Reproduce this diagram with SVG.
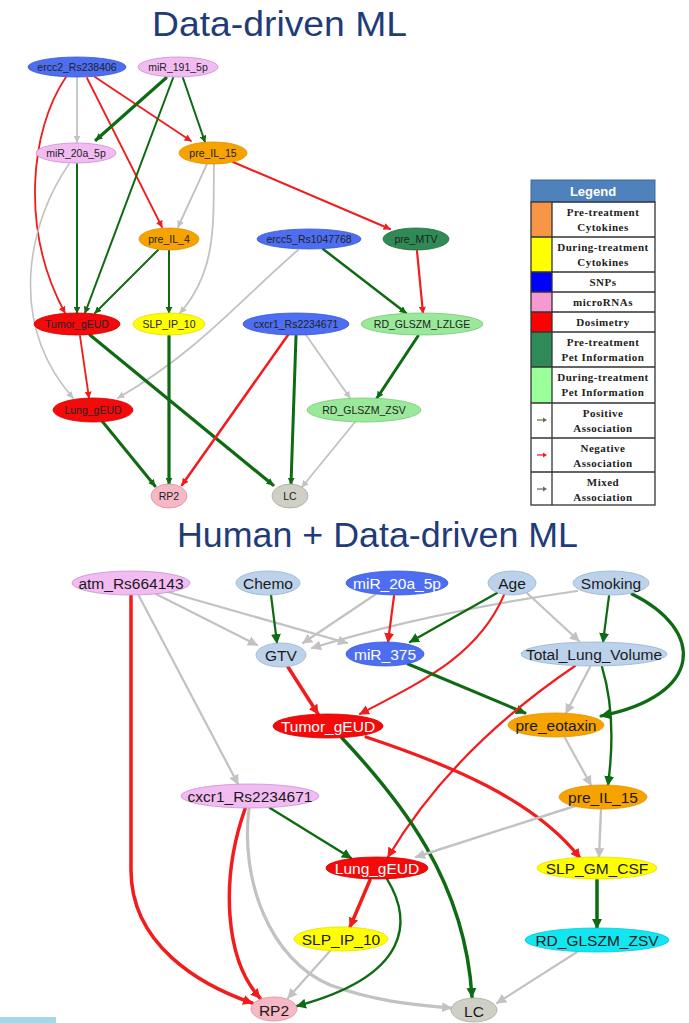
<svg xmlns="http://www.w3.org/2000/svg" width="689" height="1023" viewBox="0 0 689 1023">
  <style>
    .title { font-family: "Liberation Sans", Arial, sans-serif; fill: #1f3c78; }
    .t1 { font-family: "Liberation Sans", Arial, sans-serif; font-size: 10.5px; fill: #222; text-anchor: middle; dominant-baseline: central; }
    .t2 { font-family: "Liberation Sans", Arial, sans-serif; font-size: 15.5px; fill: #1a1a1a; text-anchor: middle; dominant-baseline: central; }
    .t2w { fill: #ffffff; }
    .e { fill: none; stroke-linecap: round; }
    .pos { stroke: #0e6b12; }
    .neg { stroke: #f21c1c; }
    .mix { stroke: #c2c2c2; }
    .snp { fill: #4d6ef0; stroke: #3a58d8; stroke-width: 0.8; }
    .mirna { fill: #f2bcf2; stroke: #c98fd0; stroke-width: 0.8; }
    .precyt { fill: #f6a300; stroke: #e09200; stroke-width: 0.8; }
    .durcyt { fill: #ffff00; stroke: #e0e000; stroke-width: 0.8; }
    .dos { fill: #f40a0a; stroke: #d00000; stroke-width: 0.8; }
    .prepet { fill: #2f8a55; stroke: #236e42; stroke-width: 0.8; }
    .durpet { fill: #9ae89a; stroke: #78c878; stroke-width: 0.8; }
    .clin { fill: #bcd2ea; stroke: #98b2d0; stroke-width: 0.8; }
    .rp2 { fill: #f5b8c4; stroke: #d8909e; stroke-width: 0.8; }
    .lc { fill: #cfcfc6; stroke: #a8a89e; stroke-width: 0.8; }
    .zsv { fill: #12e6f0; stroke: #00c8d2; stroke-width: 0.8; }
    .lg { font-family: "Liberation Serif", "Times New Roman", serif; font-weight: bold; font-size: 11px; fill: #222; text-anchor: middle; letter-spacing: 0.5px; }
    .lgrid { fill: none; stroke: #333; stroke-width: 1.3; }
  </style>
  <defs>
    <marker id="ag" viewBox="0 0 10 10" refX="9" refY="5" markerUnits="userSpaceOnUse" markerWidth="7" markerHeight="7" orient="auto"><path d="M0,0 L10,5 L0,10 z" fill="#0e6b12"/></marker>
    <marker id="ar" viewBox="0 0 10 10" refX="9" refY="5" markerUnits="userSpaceOnUse" markerWidth="7" markerHeight="7" orient="auto"><path d="M0,0 L10,5 L0,10 z" fill="#f21c1c"/></marker>
    <marker id="ay" viewBox="0 0 10 10" refX="9" refY="5" markerUnits="userSpaceOnUse" markerWidth="7" markerHeight="7" orient="auto"><path d="M0,0 L10,5 L0,10 z" fill="#c2c2c2"/></marker>
    <marker id="bg" viewBox="0 0 10 10" refX="9" refY="5" markerUnits="userSpaceOnUse" markerWidth="10" markerHeight="10" orient="auto"><path d="M0,0 L10,5 L0,10 z" fill="#0e6b12"/></marker>
    <marker id="br" viewBox="0 0 10 10" refX="9" refY="5" markerUnits="userSpaceOnUse" markerWidth="10" markerHeight="10" orient="auto"><path d="M0,0 L10,5 L0,10 z" fill="#f21c1c"/></marker>
    <marker id="by" viewBox="0 0 10 10" refX="9" refY="5" markerUnits="userSpaceOnUse" markerWidth="10" markerHeight="10" orient="auto"><path d="M0,0 L10,5 L0,10 z" fill="#c2c2c2"/></marker>
  </defs>

  <rect x="0" y="0" width="689" height="1023" fill="#ffffff"/>

  <!-- Titles -->
  <text class="title" x="152" y="36" font-size="35" textLength="255" lengthAdjust="spacingAndGlyphs">Data-driven ML</text>
  <text class="title" x="177" y="547" font-size="35" textLength="401" lengthAdjust="spacingAndGlyphs">Human + Data-driven ML</text>

  <!-- ===== Upper network: connectors ===== -->
  <g id="edges-top">
    <path class="e mix" stroke-width="1.8" marker-end="url(#ay)" d="M77,77 L77,142"/>
    <path class="e neg" stroke-width="1.8" marker-end="url(#ar)" d="M66,77 C30,130 20,230 65,313"/>
    <path class="e neg" stroke-width="1.8" marker-end="url(#ar)" d="M87,78 L162,227"/>
    <path class="e neg" stroke-width="1.8" marker-end="url(#ar)" d="M95,77 L191,141"/>
    <path class="e pos" stroke-width="3.2" marker-end="url(#ag)" d="M166,78 L96,140"/>
    <path class="e pos" stroke-width="2" marker-end="url(#ag)" d="M173,78 L85,313"/>
    <path class="e pos" stroke-width="2" marker-end="url(#ag)" d="M183,78 L205,142"/>
    <path class="e pos" stroke-width="2" marker-end="url(#ag)" d="M77,164 L77,313"/>
    <path class="e mix" stroke-width="1.6" marker-end="url(#ay)" d="M69,164 C30,220 5,320 73,398"/>
    <path class="e mix" stroke-width="1.8" marker-end="url(#ay)" d="M207,164 L178,227"/>
    <path class="e mix" stroke-width="1.8" marker-end="url(#ay)" d="M214,164 C213,220 218,270 180,313"/>
    <path class="e neg" stroke-width="2" marker-end="url(#ar)" d="M233,162 L390,229"/>
    <path class="e pos" stroke-width="2" marker-end="url(#ag)" d="M158,250 L95,313"/>
    <path class="e pos" stroke-width="2" marker-end="url(#ag)" d="M169,250 L169,313"/>
    <path class="e mix" stroke-width="1.8" marker-end="url(#ay)" d="M298,250 C240,300 200,350 118,398"/>
    <path class="e pos" stroke-width="2.5" marker-end="url(#ag)" d="M323,249 L406,313"/>
    <path class="e neg" stroke-width="2.2" marker-end="url(#ar)" d="M417,251 L423,313"/>
    <path class="e neg" stroke-width="1.8" marker-end="url(#ar)" d="M80,336 L89,398"/>
    <path class="e pos" stroke-width="3.2" marker-end="url(#ag)" d="M90,335 L273,485"/>
    <path class="e pos" stroke-width="3.2" marker-end="url(#ag)" d="M169,336 L169,484"/>
    <path class="e neg" stroke-width="2.5" marker-end="url(#ar)" d="M288,335 L182,485"/>
    <path class="e pos" stroke-width="3" marker-end="url(#ag)" d="M296,336 L291,484"/>
    <path class="e mix" stroke-width="1.8" marker-end="url(#ay)" d="M306,335 L350,398"/>
    <path class="e pos" stroke-width="3" marker-end="url(#ag)" d="M418,336 L377,398"/>
    <path class="e pos" stroke-width="3" marker-end="url(#ag)" d="M102,421 L155,486"/>
    <path class="e mix" stroke-width="1.8" marker-end="url(#ay)" d="M355,422 L302,487"/>
  </g>

  <!-- ===== Upper network: nodes ===== -->
  <g id="n-ercc2"><ellipse class="snp" cx="77" cy="67" rx="49" ry="10"/><text class="t1" x="77" y="67">ercc2_Rs238406</text></g>
  <g id="n-mir191"><ellipse class="mirna" cx="178" cy="67" rx="40" ry="10"/><text class="t1" x="178" y="67">miR_191_5p</text></g>
  <g id="n-mir20a-top"><ellipse class="mirna" cx="76" cy="153" rx="40" ry="10"/><text class="t1" x="76" y="153">miR_20a_5p</text></g>
  <g id="n-preil15-top"><ellipse class="precyt" cx="213" cy="153" rx="34" ry="11"/><text class="t1" x="213" y="153">pre_IL_15</text></g>
  <g id="n-preil4"><ellipse class="precyt" cx="169" cy="239" rx="30" ry="11"/><text class="t1" x="169" y="239">pre_IL_4</text></g>
  <g id="n-ercc5"><ellipse class="snp" cx="309" cy="239" rx="52" ry="10"/><text class="t1" x="309" y="239">ercc5_Rs1047768</text></g>
  <g id="n-premtv"><ellipse class="prepet" cx="416" cy="239" rx="33" ry="11"/><text class="t1" x="416" y="239">pre_MTV</text></g>
  <g id="n-tumor-top"><ellipse class="dos" cx="77" cy="324" rx="43" ry="11"/><text class="t1" x="77" y="324">Tumor_gEUD</text></g>
  <g id="n-slpip10-top"><ellipse class="durcyt" cx="169" cy="324" rx="36" ry="11"/><text class="t1" x="169" y="324">SLP_IP_10</text></g>
  <g id="n-cxcr1-top"><ellipse class="snp" cx="296" cy="324" rx="53" ry="11"/><text class="t1" x="296" y="324">cxcr1_Rs2234671</text></g>
  <g id="n-lzlge"><ellipse class="durpet" cx="422" cy="324" rx="61" ry="11"/><text class="t1" x="422" y="324">RD_GLSZM_LZLGE</text></g>
  <g id="n-lung-top"><ellipse class="dos" cx="93" cy="410" rx="40" ry="12"/><text class="t1" x="93" y="410">Lung_gEUD</text></g>
  <g id="n-zsv-top"><ellipse class="durpet" cx="364" cy="410" rx="57" ry="12"/><text class="t1" x="364" y="410">RD_GLSZM_ZSV</text></g>
  <g id="n-rp2-top"><ellipse class="rp2" cx="169" cy="496" rx="18" ry="12"/><text class="t1" x="169" y="496">RP2</text></g>
  <g id="n-lc-top"><ellipse class="lc" cx="290" cy="496" rx="18" ry="12"/><text class="t1" x="290" y="496">LC</text></g>

  <!-- ===== Legend ===== -->
  <g id="legend">
    <rect x="531" y="180" width="124" height="22" fill="#4f81bd" stroke="#3b6aa0" stroke-width="1"/>
    <text x="593" y="196" font-family="'Liberation Sans', Arial, sans-serif" font-weight="bold" font-size="13" fill="#ffffff" text-anchor="middle">Legend</text>
    <rect x="531" y="202" width="21" height="35" fill="#f79646"/>
    <rect x="531" y="237" width="21" height="35" fill="#ffff00"/>
    <rect x="531" y="272" width="21" height="20" fill="#0000ff"/>
    <rect x="531" y="292" width="21" height="20" fill="#f59ad0"/>
    <rect x="531" y="312" width="21" height="20" fill="#ff0000"/>
    <rect x="531" y="332" width="21" height="35" fill="#2e8b57"/>
    <rect x="531" y="367" width="21" height="36" fill="#99ff99"/>
    <rect class="lgrid" x="531" y="202" width="124" height="303"/>
    <path class="lgrid" d="M552,202 V505 M531,237 H655 M531,272 H655 M531,292 H655 M531,312 H655 M531,332 H655 M531,367 H655 M531,403 H655 M531,438 H655 M531,472 H655"/>
    <text class="lg" x="603" y="216">Pre-treatment</text>
    <text class="lg" x="603" y="231">Cytokines</text>
    <text class="lg" x="603" y="251">During-treatment</text>
    <text class="lg" x="603" y="266">Cytokines</text>
    <text class="lg" x="603" y="286">SNPs</text>
    <text class="lg" x="603" y="306">microRNAs</text>
    <text class="lg" x="603" y="326">Dosimetry</text>
    <text class="lg" x="603" y="346">Pre-treatment</text>
    <text class="lg" x="603" y="361">Pet Information</text>
    <text class="lg" x="603" y="381">During-treatment</text>
    <text class="lg" x="603" y="396">Pet Information</text>
    <text class="lg" x="603" y="417">Positive</text>
    <text class="lg" x="603" y="432">Association</text>
    <text class="lg" x="603" y="452">Negative</text>
    <text class="lg" x="603" y="467">Association</text>
    <text class="lg" x="603" y="486">Mixed</text>
    <text class="lg" x="603" y="501">Association</text>
    <path d="M537,420 H544" stroke="#6a7040" stroke-width="1.2"/><path d="M543,417.5 L547,420 L543,422.5 z" fill="#6a7040"/>
    <path d="M537,455 H544" stroke="#f21c1c" stroke-width="1.2"/><path d="M543,452.5 L547,455 L543,457.5 z" fill="#f21c1c"/>
    <path d="M537,489 H544" stroke="#666" stroke-width="1.2"/><path d="M543,486.5 L547,489 L543,491.5 z" fill="#666"/>
  </g>

  <!-- ===== Lower network: connectors ===== -->
  <g id="edges-bottom">
    <path class="e neg" stroke-width="3.5" marker-end="url(#br)" d="M131,595 L131,870 C131,945 200,985 252,1003"/>
    <path class="e mix" stroke-width="2.2" marker-end="url(#by)" d="M156,594 L257,645"/>
    <path class="e mix" stroke-width="2.2" marker-end="url(#by)" d="M168,592 L347,643"/>
    <path class="e mix" stroke-width="2.2" marker-end="url(#by)" d="M139,596 L238,784"/>
    <path class="e pos" stroke-width="2.2" marker-end="url(#bg)" d="M271,595 L277,643"/>
    <path class="e mix" stroke-width="2.2" marker-end="url(#by)" d="M376,594 L303,643"/>
    <path class="e mix" stroke-width="2.2" marker-end="url(#by)" d="M577,591 Q430,612 312,648"/>
    <path class="e neg" stroke-width="2.2" marker-end="url(#br)" d="M394,596 L388,642"/>
    <path class="e pos" stroke-width="2.4" marker-end="url(#bg)" d="M497,593 L410,642"/>
    <path class="e neg" stroke-width="2" marker-end="url(#br)" d="M504,595 C478,655 425,680 360,714"/>
    <path class="e mix" stroke-width="2.2" marker-end="url(#by)" d="M527,593 L579,641"/>
    <path class="e pos" stroke-width="2.2" marker-end="url(#bg)" d="M609,596 L603,642"/>
    <path class="e pos" stroke-width="3.2" marker-end="url(#bg)" d="M632,594 C705,630 705,695 601,716"/>
    <path class="e neg" stroke-width="3.5" marker-end="url(#br)" d="M288,667 L318,714"/>
    <path class="e pos" stroke-width="3" marker-end="url(#bg)" d="M408,664 L525,713"/>
    <path class="e neg" stroke-width="2.2" marker-end="url(#br)" d="M575,666 C510,710 440,770 388,857"/>
    <path class="e mix" stroke-width="2.2" marker-end="url(#by)" d="M590,667 L566,713"/>
    <path class="e pos" stroke-width="2.4" marker-end="url(#bg)" d="M602,667 C612,700 614,740 608,785"/>
    <path class="e pos" stroke-width="3.5" marker-end="url(#bg)" d="M342,738 C400,800 465,880 472,997"/>
    <path class="e neg" stroke-width="3.2" marker-end="url(#br)" d="M366,737 C450,765 535,800 580,858"/>
    <path class="e mix" stroke-width="2.2" marker-end="url(#by)" d="M565,738 L591,785"/>
    <path class="e pos" stroke-width="2.4" marker-end="url(#bg)" d="M270,808 L351,858"/>
    <path class="e neg" stroke-width="3.5" marker-end="url(#br)" d="M245,809 C220,880 225,960 260,998"/>
    <path class="e mix" stroke-width="3.2" marker-end="url(#by)" d="M249,809 C240,880 270,960 330,985 C380,1003 420,1005 451,1008"/>
    <path class="e mix" stroke-width="2.4" marker-end="url(#by)" d="M575,806 L416,857"/>
    <path class="e mix" stroke-width="2.4" marker-end="url(#by)" d="M601,809 L599,857"/>
    <path class="e neg" stroke-width="3.5" marker-end="url(#br)" d="M370,880 L350,927"/>
    <path class="e pos" stroke-width="2.4" marker-end="url(#bg)" d="M387,879 C412,920 412,975 297,1006"/>
    <path class="e mix" stroke-width="2.2" marker-end="url(#by)" d="M330,951 L288,998"/>
    <path class="e pos" stroke-width="3.5" marker-end="url(#bg)" d="M597,880 L597,928"/>
    <path class="e mix" stroke-width="2.2" marker-end="url(#by)" d="M577,952 L497,1003"/>
  </g>

  <!-- ===== Lower network: nodes ===== -->
  <g id="m-atm"><ellipse class="mirna" cx="131" cy="583" rx="59" ry="12"/><text class="t2" x="131" y="583">atm_Rs664143</text></g>
  <g id="m-chemo"><ellipse class="clin" cx="268" cy="583" rx="32" ry="12"/><text class="t2" x="268" y="583">Chemo</text></g>
  <g id="m-mir20a"><ellipse class="snp" cx="397" cy="583" rx="51" ry="12"/><text class="t2 t2w" x="397" y="583">miR_20a_5p</text></g>
  <g id="m-age"><ellipse class="clin" cx="512" cy="583" rx="24" ry="12"/><text class="t2" x="512" y="583">Age</text></g>
  <g id="m-smoking"><ellipse class="clin" cx="611" cy="583" rx="38" ry="12"/><text class="t2" x="611" y="583">Smoking</text></g>
  <g id="m-gtv"><ellipse class="clin" cx="281" cy="655" rx="25" ry="12"/><text class="t2" x="281" y="655">GTV</text></g>
  <g id="m-mir375"><ellipse class="snp" cx="385" cy="654" rx="39" ry="12"/><text class="t2 t2w" x="385" y="654">miR_375</text></g>
  <g id="m-tlv"><ellipse class="clin" cx="594" cy="654" rx="73" ry="12"/><text class="t2" x="594" y="654">Total_Lung_Volume</text></g>
  <g id="m-tumor"><ellipse class="dos" cx="328" cy="726" rx="55" ry="12"/><text class="t2 t2w" x="328" y="726">Tumor_gEUD</text></g>
  <g id="m-eotaxin"><ellipse class="precyt" cx="556" cy="725" rx="48" ry="12"/><text class="t2" x="556" y="725">pre_eotaxin</text></g>
  <g id="m-cxcr1"><ellipse class="mirna" cx="250" cy="796" rx="69" ry="12"/><text class="t2" x="250" y="796">cxcr1_Rs2234671</text></g>
  <g id="m-preil15"><ellipse class="precyt" cx="603" cy="797" rx="44" ry="12"/><text class="t2" x="603" y="797">pre_IL_15</text></g>
  <g id="m-lung"><ellipse class="dos" cx="377" cy="868" rx="51" ry="11"/><text class="t2 t2w" x="377" y="868">Lung_gEUD</text></g>
  <g id="m-gmcsf"><ellipse class="durcyt" cx="597" cy="868" rx="60" ry="11"/><text class="t2" x="597" y="868">SLP_GM_CSF</text></g>
  <g id="m-slpip10"><ellipse class="durcyt" cx="341" cy="939" rx="47" ry="12"/><text class="t2" x="341" y="939">SLP_IP_10</text></g>
  <g id="m-zsv"><ellipse class="zsv" cx="597" cy="940" rx="72" ry="12"/><text class="t2" x="597" y="940">RD_GLSZM_ZSV</text></g>
  <g id="m-rp2"><ellipse class="rp2" cx="274" cy="1009" rx="23" ry="12"/><text class="t2" x="274" y="1010" font-size="19">RP2</text></g>
  <g id="m-lc"><ellipse class="lc" cx="474" cy="1010" rx="23" ry="12"/><text class="t2" x="474" y="1011" font-size="19">LC</text></g>

  <!-- footer strip -->
  <rect x="0" y="1017" width="56" height="6" fill="#a6d8e8"/>
</svg>
